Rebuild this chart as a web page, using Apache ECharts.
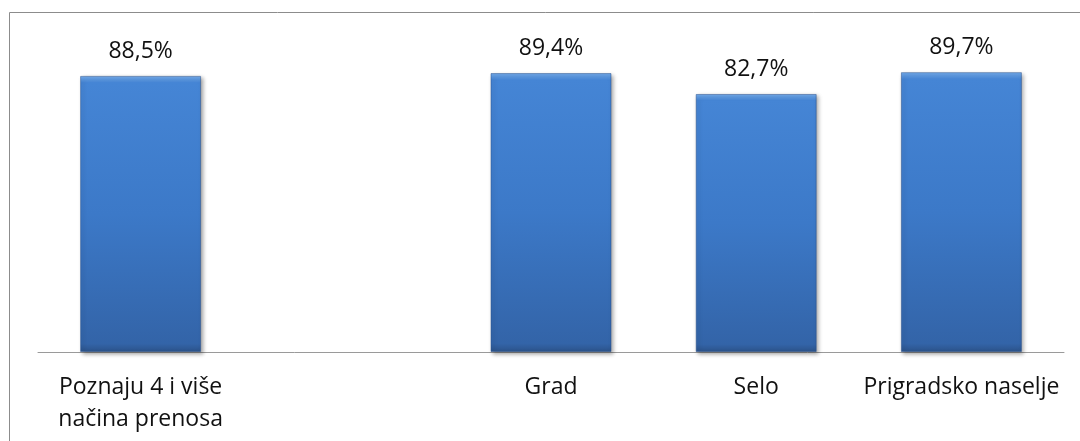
<!DOCTYPE html>
<html>
<head>
<meta charset="utf-8">
<script src="https://cdn.jsdelivr.net/npm/echarts@6/dist/echarts.min.js"></script>
<style>
  html, body { margin: 0; padding: 0; background: #fff; }
  #chart { width: 1080px; height: 441px; }
</style>
</head>
<body>
<div id="chart"></div>
<script>
// kategorije i vrijednosti (druga kategorija je prazna)
var kategorije = ['Poznaju 4 i više\nnačina prenosa', '', 'Grad', 'Selo', 'Prigradsko naselje'];
var vrijednosti = [88.5, '-', 89.4, 82.7, 89.7];

var chart = echarts.init(document.getElementById('chart'));

var font = '"Open Sans", "Noto Sans", sans-serif';

var option = {
    animation: false,
    backgroundColor: '#fff',
    graphic: [{
        type: 'rect',
        shape: { x: 9.5, y: 12.5, width: 1100, height: 460 },
        style: { fill: 'none', stroke: '#8c8c8c', lineWidth: 1 },
        silent: true
    }],
    grid: {
        left: 38,
        right: 16,
        top: 40,
        bottom: 89
    },
    xAxis: {
        type: 'category',
        data: kategorije,
        axisLine: { lineStyle: { color: '#9a9a9a', width: 1 } },
        axisTick: { show: false },
        axisLabel: {
            interval: 0,
            margin: 19,
            color: '#111',
            fontFamily: font,
            fontSize: 23,
            lineHeight: 32
        }
    },
    yAxis: {
        type: 'value',
        min: 0,
        max: 100,
        show: false,
        splitLine: { show: false }
    },
    series: [{
        type: 'bar',
        data: vrijednosti,
        barWidth: 121,
        itemStyle: {
            color: new echarts.graphic.LinearGradient(0, 0, 0, 1, [
                { offset: 0, color: '#74acec' },
                { offset: 0.025, color: '#4585d5' },
                { offset: 0.5, color: '#3c79c8' },
                { offset: 0.97, color: '#3364a8' },
                { offset: 1, color: '#2b5289' }
            ]),
            borderColor: 'rgba(40,80,140,0.5)',
            borderWidth: 1,
            shadowColor: 'rgba(0,0,0,0.35)',
            shadowBlur: 4,
            shadowOffsetX: 2,
            shadowOffsetY: 2
        },
        label: {
            show: true,
            position: 'top',
            distance: 13,
            color: '#111',
            fontFamily: font,
            fontSize: 23,
            formatter: function (p) {
                return p.value.toFixed(1).replace('.', ',') + '%';
            }
        }
    }]
};

chart.setOption(option);
</script>
</body>
</html>
